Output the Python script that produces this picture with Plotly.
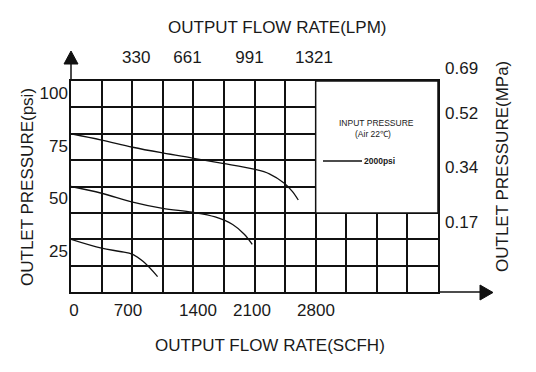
import plotly.graph_objects as go

# ---------------- data ----------------
# flow in SCFH, outlet pressure in psi
curve75_flow = [0, 350, 706, 1049, 1388, 1735, 2094, 2270, 2441, 2530, 2601]
curve75_psi = [75, 72.0, 68.6, 65.9, 63.5, 61.0, 58.2, 56.0, 51.5, 47.8, 43.6]

curve50_flow = [0, 350, 706, 1049, 1388, 1650, 1850, 1980, 2074]
curve50_psi = [50, 46.8, 42.6, 39.6, 37.8, 35.6, 32.0, 27.5, 22.6]

curve25_flow = [0, 350, 560, 706, 827, 991]
curve25_psi = [25, 20.8, 19.2, 17.8, 14.4, 7.3]

# tick labels
scfh_labels = ["0", "700", "1400", "2100", "2800"]
scfh_pos = [34, 652, 1453, 2071, 2804]
lpm_labels = ["330", "661", "991", "1321"]
lpm_pos = [747, 1333, 2043, 2781]
psi_labels = ["25", "50", "75", "100"]
psi_pos = [25, 50, 75, 100]
mpa_labels = ["0.17", "0.34", "0.52", "0.69"]
mpa_pos = [23.2, 49.3, 74.9, 96.2]

legend_title = "INPUT PRESSURE"
legend_sub = "(Air 22℃)"
legend_item = "2000psi"

# ---------------- figure ----------------
OFF = 8  # page body margin offset
W, H = 536 - OFF, 372 - OFF
L, R, T, B = 71, 438, 81, 292  # plot area in page pixels
pw, ph = R - L, B - T


def px(x):
    return (x - L) / pw


def py(y):
    return (B - y) / ph


FONT = "Liberation Sans, Arial, sans-serif"
TXT = "#1a1a1a"
GRID = "#111111"

fig = go.Figure()
line_style = dict(color="#111111", width=1.3, shape="spline", smoothing=1.0)
fig.add_trace(go.Scatter(x=curve75_flow, y=curve75_psi, mode="lines", line=line_style,
                         xaxis="x2", yaxis="y2", showlegend=False, hoverinfo="skip"))
fig.add_trace(go.Scatter(x=curve50_flow, y=curve50_psi, mode="lines", line=line_style,
                         showlegend=False, hoverinfo="skip"))
fig.add_trace(go.Scatter(x=curve25_flow, y=curve25_psi, mode="lines", line=line_style,
                         showlegend=False, hoverinfo="skip"))

xr = [0, 4200]
yr = [0, 100]

fig.update_layout(
    template="none",
    width=W, height=H,
    margin=dict(l=L - OFF, r=536 - R, t=T - OFF, b=372 - B, pad=0, autoexpand=False),
    paper_bgcolor="white", plot_bgcolor="white",
    font=dict(family=FONT, size=17, color=TXT),
    showlegend=False,
    xaxis=dict(range=xr, tickmode="array", tickvals=scfh_pos, ticktext=scfh_labels,
               showgrid=False, zeroline=False, ticks="", ticklabelstandoff=2, automargin=False,
               showline=True, linecolor=GRID, linewidth=1.5, mirror=True,
               minor=dict(tick0=0, dtick=350, showgrid=True, gridcolor=GRID, gridwidth=1.5, ticks=""),
               tickfont=dict(size=17, color=TXT)),
    xaxis2=dict(range=xr, overlaying="x", side="top", anchor="y", tickmode="array",
                tickvals=lpm_pos, ticktext=lpm_labels, showgrid=False, zeroline=False,
                ticks="", ticklabelstandoff=14, showline=False, automargin=False,
                tickfont=dict(size=17, color=TXT)),
    yaxis=dict(range=yr, tickmode="array", tickvals=psi_pos, ticktext=psi_labels,
               showgrid=True, gridcolor=GRID, gridwidth=1.5, zeroline=False, ticks="",
               ticklabelshift=12, ticklabelstandoff=-2, automargin=False,
               showline=True, linecolor=GRID, linewidth=1.5, mirror=True,
               minor=dict(tick0=0, dtick=12.5, showgrid=True, gridcolor=GRID, gridwidth=1.5, ticks=""),
               tickfont=dict(size=17, color=TXT)),
    yaxis2=dict(range=yr, overlaying="y", side="right", anchor="x", tickmode="array",
                tickvals=mpa_pos, ticktext=mpa_labels, showgrid=False, zeroline=False,
                ticks="", ticklabelshift=-21, ticklabelstandoff=6, showline=False, automargin=False,
                tickfont=dict(size=17, color=TXT)),
)

# legend box covering the upper-right part of the grid
fig.add_shape(type="rect", xref="x", yref="y", x0=2800, x1=4200, y0=37.5, y1=100,
              fillcolor="white", line=dict(color=GRID, width=1.5), layer="between")

# axis arrows
k = dict(color=GRID, width=1.5)
fig.add_shape(type="line", xref="paper", yref="paper", x0=0, x1=0, y0=1, y1=py(62), line=k)
fig.add_shape(type="path", xref="paper", yref="paper",
              path=f"M {px(64)},{py(64)} L {px(78)},{py(64)} L {px(71)},{py(51)} Z",
              fillcolor=GRID, line=dict(color=GRID, width=1))
fig.add_shape(type="line", xref="paper", yref="paper", x0=1, x1=px(481), y0=0, y1=0, line=k)
fig.add_shape(type="path", xref="paper", yref="paper",
              path=f"M {px(480)},{py(285)} L {px(480)},{py(300)} L {px(493)},{py(292.5)} Z",
              fillcolor=GRID, line=dict(color=GRID, width=1))

# legend sample line
fig.add_shape(type="line", xref="paper", yref="paper", x0=px(323), x1=px(362),
              y0=py(161), y1=py(161), line=dict(color=GRID, width=1.3))

ann = [
    dict(text="OUTPUT FLOW RATE(LPM)", x=px(277), y=py(27), size=17, angle=0),
    dict(text="OUTPUT FLOW RATE(SCFH)", x=px(270), y=py(345), size=17, angle=0),
    dict(text="OUTLET PRESSURE(psi)", x=px(27), y=py(187), size=17, angle=-90),
    dict(text="OUTLET PRESSURE(MPa)", x=px(502), y=py(166), size=17, angle=-90),
    dict(text=legend_title, x=px(376.5), y=py(122.5), size=8.5, angle=0),
    dict(text=legend_sub, x=px(373), y=py(133.5), size=8.5, angle=0),
]
for a in ann:
    fig.add_annotation(text=a["text"], x=a["x"], y=a["y"], xref="paper", yref="paper",
                       showarrow=False, textangle=a["angle"], xanchor="center", yanchor="middle",
                       font=dict(size=a["size"], color=TXT, family=FONT))
fig.add_annotation(text=f"<b>{legend_item}</b>", x=px(362), y=py(161), xref="paper", yref="paper",
                   showarrow=False, xanchor="left", yanchor="middle",
                   font=dict(size=8.5, color=TXT, family=FONT))

fig.write_html("out.html")
